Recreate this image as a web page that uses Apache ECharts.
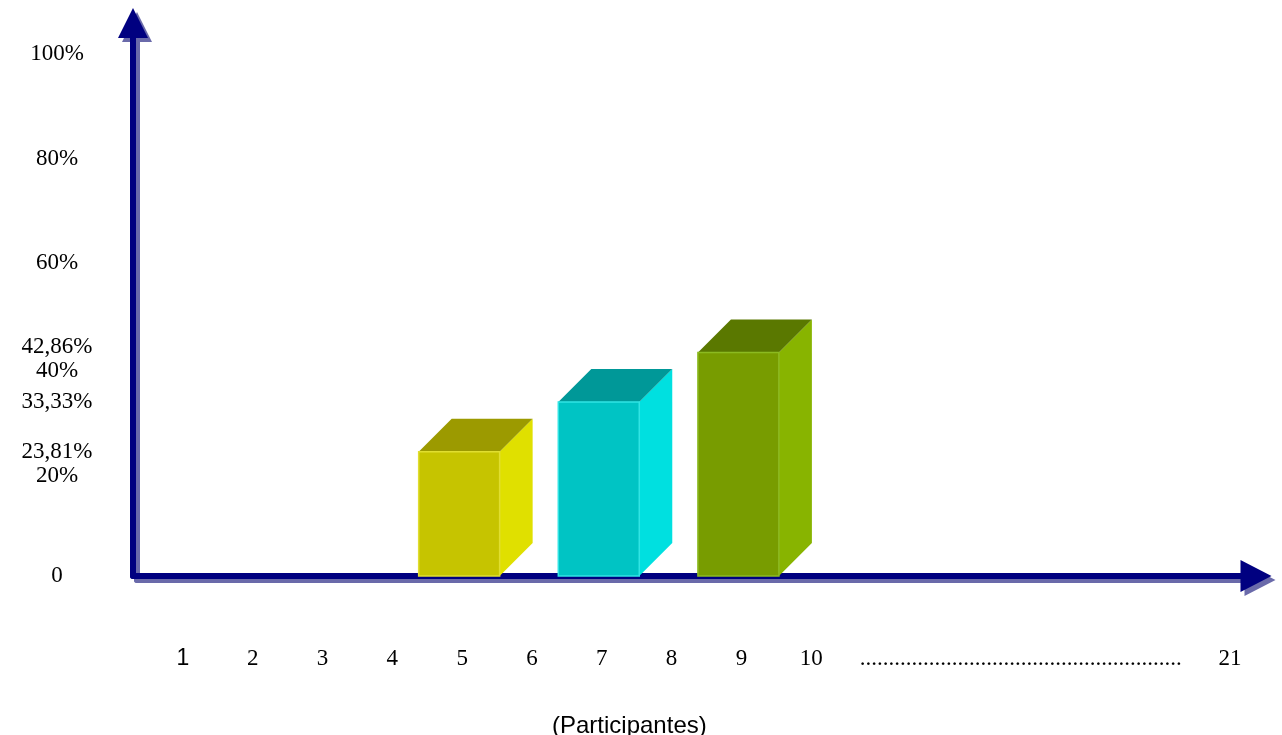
<!DOCTYPE html>
<html><head><meta charset="utf-8">
<script src="https://cdn.jsdelivr.net/npm/echarts@6/dist/echarts.min.js"></script>
<style>html,body{margin:0;padding:0;background:#fff}#chart{width:1282px;height:735px}</style>
</head><body><div id="chart"></div>
<script>
// ---- data ----
const xLabels = ['1','2','3','4','5','6','7','8','9','10',' ','  ','........................................................','   ','    ','21'];
const barCategories = ['5','7','9'];
const barValues = [23.81, 33.33, 42.86];
const yTickValues = [0, 20, 23.81, 33.33, 40, 42.86, 60, 80, 100];
const yTickLabels = ['0','20%','23,81%','33,33%','40%','42,86%','60%','80%','100%'];
const xTitle = '(Participantes)';

// ---- styles ----
const serif = 'Liberation Serif, Times New Roman, serif';
const sans = 'Liberation Sans, Arial, sans-serif';
const barColors = [
  {front:'#c6c400', top:'#9c9a00', side:'#e0e000', edge:'#e0de30'},
  {front:'#00c4c4', top:'#009898', side:'#00e0e0', edge:'#30e4e4'},
  {front:'#789c00', top:'#5a7800', side:'#88b400', edge:'#8cba20'}
];
const navy = '#000080';
const shadowNavy = '#6a6aaa';
// small legibility nudges for the closely spaced label pairs
const yLabelStyle = {'42,86%':'up', '40%':'dn', '20%':'dn'};

function arrowAxis(gridIndex, type, color, size, z) {
  const a = {
    gridIndex: gridIndex, type: 'value', min: 0, max: type === 'x' ? 1 : 106, z: z,
    axisLine: {show: true, symbol: ['none', 'triangle'], symbolSize: size,
      lineStyle: {color: color, width: 6}},
    axisTick: {show: false}, axisLabel: {show: false}, splitLine: {show: false}
  };
  return a;
}

const chart = echarts.init(document.getElementById('chart'), null, {renderer:'canvas'});

const yMain = arrowAxis(0, 'y', navy, [30, 30], 3);
yMain.axisLabel = {
  show: true, customValues: yTickValues, margin: 76, align: 'center', color: '#000',
  fontFamily: serif, fontSize: 23,
  formatter: function (v) {
    const i = yTickValues.findIndex(t => Math.abs(t - v) < 1e-6);
    if (i < 0) return '';
    const t = yTickLabels[i];
    return yLabelStyle[t] ? '{' + yLabelStyle[t] + '|' + t + '}' : t;
  },
  rich: {
    up: {fontFamily: serif, fontSize: 23, color: '#000', padding: [0, 0, 10, 0]},
    dn: {fontFamily: serif, fontSize: 23, color: '#000', padding: [8, 0, 0, 0]}
  }
};

chart.setOption({
  animation: false,
  backgroundColor: '#ffffff',
  title: {
    text: xTitle, left: 547, top: 709, padding: 5,
    textStyle: {fontFamily: sans, fontSize: 24, fontWeight: 'normal', color: '#000'}
  },
  grid: [
    {left: 133, right: 26, top: 23, bottom: 159},
    {left: 148, right: 17, top: 23, bottom: 159},
    {left: 137, right: 22, top: 27, bottom: 155}
  ],
  xAxis: [
    arrowAxis(0, 'x', navy, [32, 31], 3),
    {
      gridIndex: 1, type: 'category', data: xLabels, boundaryGap: true,
      axisLine: {show: false}, axisTick: {show: false}, splitLine: {show: false},
      axisLabel: {
        interval: 0, margin: 71, color: '#000',
        fontFamily: serif, fontSize: 23,
        formatter: function (v) { return v === '1' ? '{s|1}' : v; },
        rich: { s: {fontFamily: sans, fontSize: 23, color: '#000'} }
      }
    },
    arrowAxis(2, 'x', shadowNavy, [32, 31], 1)
  ],
  yAxis: [
    yMain,
    {gridIndex: 1, type: 'value', min: 0, max: 106, show: false},
    arrowAxis(2, 'y', shadowNavy, [30, 30], 1)
  ],
  series: [{
    type: 'custom', xAxisIndex: 1, yAxisIndex: 1, z: 10,
    data: barCategories.map((c, i) => [c, barValues[i]]),
    encode: {x: 0, y: 1},
    renderItem: function (params, api) {
      const c = barColors[params.dataIndex % barColors.length];
      const cat = api.value(0), val = api.value(1);
      const base = api.coord([cat, 0]);
      const topP = api.coord([cat, val]);
      const w = api.size([1, 0])[0] * 1.16;
      const x0 = base[0] - w / 2 - 3, x1 = x0 + w;
      const y0 = base[1], y1 = topP[1];
      const dx = 33, dy = 33;
      return {
        type: 'group',
        children: [
          {type: 'polygon', shape: {points: [[x1, y1], [x1 + dx, y1 - dy], [x1 + dx, y0 - dy], [x1, y0]]},
            style: {fill: c.side, stroke: null}},
          {type: 'polygon', shape: {points: [[x0, y1], [x1, y1], [x1 + dx, y1 - dy], [x0 + dx, y1 - dy]]},
            style: {fill: c.top, stroke: null}},
          {type: 'rect', shape: {x: x0, y: y1, width: w, height: y0 - y1},
            style: {fill: c.front, stroke: c.edge, lineWidth: 1.5}}
        ]
      };
    }
  }]
});
</script>
</body></html>
